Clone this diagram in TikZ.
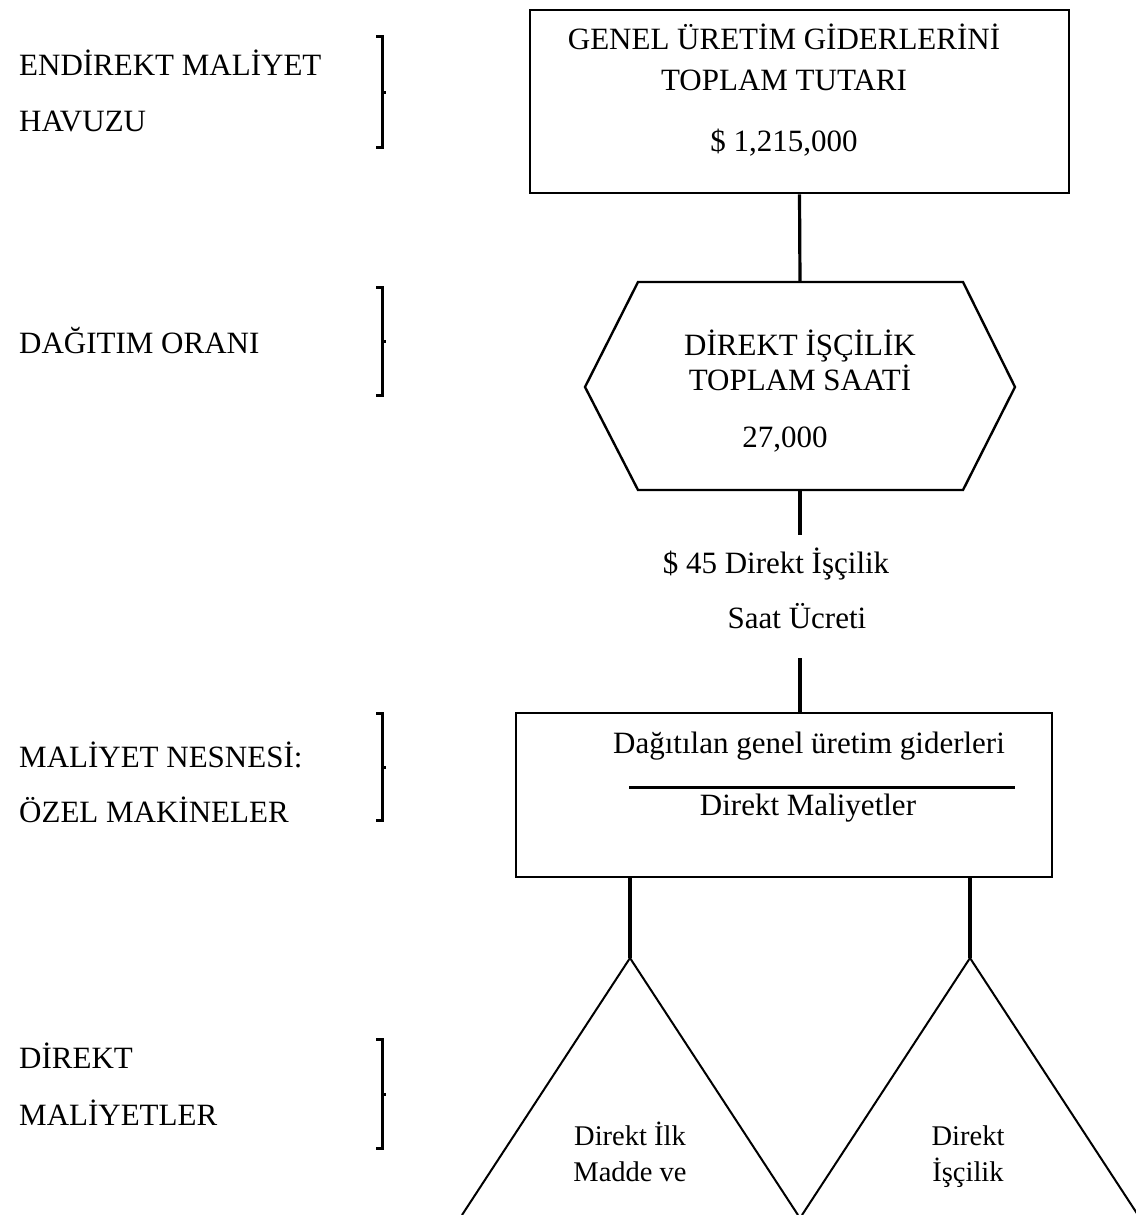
\documentclass[tikz,border=0pt]{standalone}
\usepackage{fontspec}
\setmainfont{Liberation Serif}
\tikzset{
  frame/.style={draw, line width=2.6pt, inner sep=0pt},
  conn/.style={line width=3.2pt},
  hexline/.style={line width=2.4pt, line join=miter},
  triline/.style={line width=2pt},
  brk/.style={line width=3pt, line join=miter},
  lbl/.style={font=\fontsize{31}{37}\selectfont, inner sep=0pt},
  tri/.style={font=\fontsize{28.5}{34}\selectfont, inner sep=0pt},
}
% square bracket with a small tick on its spine
\newcommand\sidebracket[3]{%
  \draw[brk] (376,#1) -- (382,#1) -- (382,#3) -- (376,#3);
  \draw[brk] (382,#2) -- (386,#2);}
\begin{document}
\begin{tikzpicture}[x=1pt,y=-1pt]
\useasboundingbox (0,0) rectangle (1135,1215);

% left column captions
\node[lbl, anchor=base west] (capA1) at (19,76)  {ENDİREKT MALİYET};
\node[lbl, anchor=base west] (capA2) at (19,131) {HAVUZU};
\node[lbl, anchor=base west] (capB)  at (19,353) {DAĞITIM ORANI};
\node[lbl, anchor=base west] (capC1) at (19,767) {MALİYET NESNESİ:};
\node[lbl, anchor=base west] (capC2) at (19,822) {ÖZEL MAKİNELER};
\node[lbl, anchor=base west] (capD1) at (19,1068) {DİREKT};
\node[lbl, anchor=base west] (capD2) at (19,1125) {MALİYETLER};

\sidebracket{37}{92}{147}
\sidebracket{287}{341}{395}
\sidebracket{713}{767}{820}
\sidebracket{1039}{1094}{1148}

% cost pool box
\node[frame, minimum width=539pt, minimum height=183pt] (pool) at (799.5,101.5) {};
\node[lbl, anchor=base] (poolT1) at (784,50)  {GENEL ÜRETİM GİDERLERİNİ};
\node[lbl, anchor=base] (poolT2) at (784,90)  {TOPLAM TUTARI};
\node[lbl, anchor=base] (poolT3) at (784,151) {\$ 1,215,000};

% allocation base hexagon
\coordinate (hexTop) at (800,282);
\coordinate (hexBot) at (800,490);
\draw[hexline] (638,282) -- (963,282) -- (1015,387) -- (963,490)
  -- (638,490) -- (585,387) -- cycle;
\node[lbl, anchor=base] (hexT1) at (800,355) {DİREKT İŞÇİLİK};
\node[lbl, anchor=base] (hexT2) at (800,390) {TOPLAM SAATİ};
\node[lbl, anchor=base] (hexT3) at (785,447) {27,000};

\draw[conn] (pool.south) -- (hexTop);

% rate label between the hexagon and the cost object
\coordinate (rateTop) at (800,535);
\coordinate (rateBot) at (800,658);
\node[lbl, anchor=base] (rate1) at (776,573) {\$ 45 Direkt İşçilik};
\node[lbl, anchor=base] (rate2) at (797,628) {Saat Ücreti};
\draw[conn] (hexBot) -- (rateTop);

% cost object box
\node[frame, minimum width=536pt, minimum height=164pt] (obj) at (784,795) {};
\node[lbl, anchor=base] (objT1) at (809,753) {Dağıtılan genel üretim giderleri};
\draw[line width=3pt] (629,787) -- (1015,787);
\node[lbl, anchor=base] (objT2) at (808,815) {Direkt Maliyetler};
\draw[conn] (rateBot) -- (rateBot |- obj.north);

% direct cost triangles
\coordinate (apexA) at (630,958);
\coordinate (apexB) at (970,958);
\draw[conn] (obj.south -| apexA) -- (apexA);
\draw[conn] (obj.south -| apexB) -- (apexB);
\draw[triline] (apexA) -- ++(-168,257);
\draw[triline] (apexA) -- ++(168,257);
\draw[triline] (apexB) -- ++(-168,257);
\draw[triline] (apexB) -- ++(168,257);
\node[tri, anchor=base] (triA1) at (630,1145) {Direkt İlk};
\node[tri, anchor=base] (triA2) at (630,1181) {Madde ve};
\node[tri, anchor=base] (triB1) at (968,1145) {Direkt};
\node[tri, anchor=base] (triB2) at (968,1181) {İşçilik};
\end{tikzpicture}
\end{document}
